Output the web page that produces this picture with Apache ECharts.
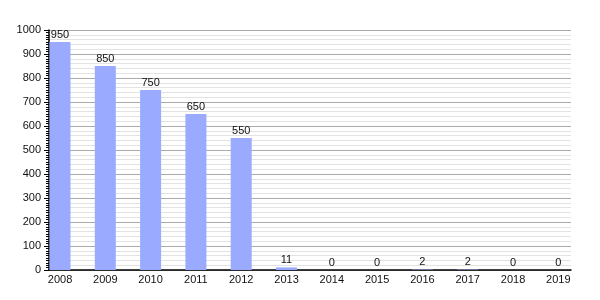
<!DOCTYPE html>
<html><head><meta charset="utf-8">
<script src="https://cdn.jsdelivr.net/npm/echarts@6/dist/echarts.min.js"></script>
<style>html,body{margin:0;padding:0;background:#fff}#c{width:600px;height:300px}</style>
</head><body><div id="c"></div>
<script>
const years = ['2008','2009','2010','2011','2012','2013','2014','2015','2016','2017','2018','2019'];
const values = [950, 850, 750, 650, 550, 11, 0, 0, 2, 2, 0, 0];
const yTicks = [0,100,200,300,400,500,600,700,800,900,1000];

const chart = echarts.init(document.getElementById('c'), null, {renderer:'canvas'});
const font = 'Liberation Sans, Arial, sans-serif';
chart.setOption({
  animation: false,
  grid: {left: 49, right: 29, top: 30, bottom: 30, containLabel: false},
  xAxis: {
    type: 'value', min: -0.243, max: 11.28,
    axisLine: {show: true, onZero: false, lineStyle: {color: '#000', width: 1.5}},
    axisTick: {show: false},
    splitLine: {show: false},
    axisLabel: {
      customValues: years.map((y, i) => i),
      formatter: v => years[Math.round(v)],
      color: '#111', fontSize: 11, fontFamily: font, margin: 4
    }
  },
  yAxis: [{
    type: 'value', min: 0, max: 1000, interval: 100,
    axisLine: {show: true, onZero: false, lineStyle: {color: '#000', width: 1.5}},
    axisTick: {show: true, length: 5, lineStyle: {color: '#000'}},
    minorTick: {show: true, splitNumber: 10, length: 3, lineStyle: {color: '#000'}},
    splitLine: {show: false},
    axisLabel: {color: '#111', fontSize: 11, fontFamily: font, margin: 8,
      customValues: yTicks, formatter: v => String(v)}
  }, {
    type: 'value', min: 0, max: 1000, interval: 20, position: 'left',
    axisLine: {show: false, onZero: false}, axisTick: {show: false}, axisLabel: {show: false},
    splitLine: {show: true, lineStyle: {color: ['#aaaaaa','#e2e2e2','#e2e2e2','#e2e2e2','#e2e2e2'], width: 1}}
  }],
  series: [{
    type: 'bar', yAxisIndex: 0,
    data: values.map((v, i) => [i, v]),
    barWidth: 21,
    itemStyle: {color: '#99aaff'},
    z: 3,
    label: {show: true, position: 'top', distance: 2, color: '#111', fontSize: 11, fontFamily: font,
      formatter: p => p.value[1]}
  }]
});
</script></body></html>
